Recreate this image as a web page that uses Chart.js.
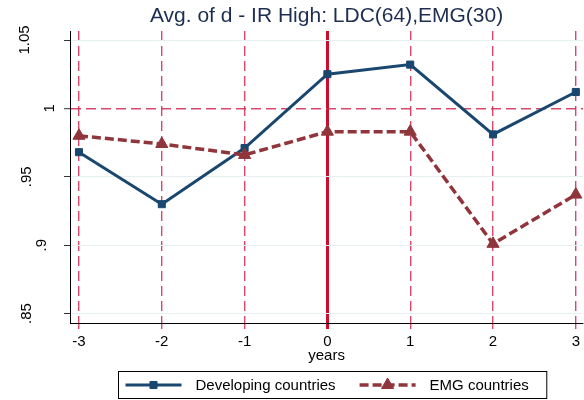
<!DOCTYPE html>
<html>
<head>
<meta charset="utf-8">
<script src="https://cdn.jsdelivr.net/npm/chart.js@4.4.1/dist/chart.umd.min.js"></script>
<style>
html, body { margin: 0; padding: 0; background: #fff; }
</style>
</head>
<body>
<canvas id="grafico" width="584" height="400"></canvas>
<script>
// datos (años relativos al evento)
const years = [-3, -2, -1, 0, 1, 2, 3];
const developing = [0.968, 0.930, 0.971, 1.025, 1.032, 0.981, 1.012];
const emg = [0.980, 0.974, 0.966, 0.983, 0.983, 0.901, 0.937];
const yTicks = [0.85, 0.9, 0.95, 1, 1.05];
const seriesNames = ['Developing countries', 'EMG countries'];
const chartTitle = 'Avg. of d - IR High: LDC(64),EMG(30)';
const xTitle = 'years';

// colores estilo Stata s2color
const NAVY = '#1a476f';
const MAROON = '#90353b';
const RED = '#c8102e';
const RED_DASH = 'rgba(210, 40, 80, 0.85)';
const GRID = '#e8eff1';
const FONT = '"Liberation Sans", Arial, sans-serif';

Chart.defaults.font.family = FONT;
Chart.defaults.color = '#000';

// formato Stata: .85, .9, 1, 1.05
function stataLabel(v) {
    const s = String(Math.round(v * 100) / 100);
    return s.replace(/^0\./, '.');
}

// etiquetas del eje y giradas 90 grados
const etiquetasY = {
    id: 'etiquetasY',
    afterDraw(chart) {
        const ctx = chart.ctx;
        const y = chart.scales.y;
        ctx.save();
        ctx.font = '15px ' + FONT;
        ctx.fillStyle = '#000';
        ctx.textAlign = 'center';
        ctx.textBaseline = 'middle';
        for (const v of yTicks) {
            const txt = stataLabel(v);
            const w = ctx.measureText(txt).width;
            const cx = Math.max(25, 66 - 1.9 * w);
            ctx.save();
            ctx.translate(cx, y.getPixelForValue(v));
            ctx.rotate(-Math.PI / 2);
            ctx.fillText(txt, 0, 0);
            ctx.restore();
        }
        ctx.restore();
    }
};

// leyenda con recuadro, muestra de línea y marcador
const leyenda = {
    id: 'leyenda',
    afterDraw(chart) {
        const ctx = chart.ctx;
        const area = chart.chartArea;
        const muestra = 56, sep = 14, entre = 24, padIzq = 7, padDer = 18;
        ctx.save();
        ctx.font = '15px ' + FONT;
        const dsets = chart.data.datasets;
        const anchos = dsets.map(ds => ctx.measureText(ds.label).width);
        let total = padIzq + padDer + entre * (dsets.length - 1);
        for (const w of anchos) total += muestra + sep + w;
        const left = Math.round((area.left + area.right) / 2 - total / 2 + 6) + 0.5;
        const top = 371.5, alto = 27;
        ctx.fillStyle = '#fff';
        ctx.fillRect(left, top, total, alto);
        ctx.strokeStyle = '#000';
        ctx.lineWidth = 1;
        ctx.strokeRect(left, top, total, alto);
        const ly = 385;
        let x = left + padIzq;
        dsets.forEach((ds, i) => {
            ctx.strokeStyle = ds.borderColor;
            ctx.lineWidth = ds.borderWidth;
            ctx.setLineDash(ds.borderDash || []);
            ctx.beginPath();
            ctx.moveTo(x, ly);
            ctx.lineTo(x + muestra, ly);
            ctx.stroke();
            ctx.setLineDash([]);
            ctx.fillStyle = ds.backgroundColor;
            ctx.lineWidth = ds.pointBorderWidth;
            Chart.helpers.drawPoint(ctx, {
                pointStyle: ds.pointStyle, radius: ds.pointRadius,
                rotation: 0, borderWidth: ds.pointBorderWidth
            }, x + muestra / 2, ly);
            ctx.fillStyle = '#000';
            ctx.textAlign = 'left';
            ctx.textBaseline = 'alphabetic';
            ctx.fillText(ds.label, x + muestra + sep, 390);
            x += muestra + sep + anchos[i] + entre;
        });
        ctx.restore();
    }
};

const esCero = c => c.tick && c.tick.value === 0;
const esUno = c => c.tick && Math.abs(c.tick.value - 1) < 1e-9;

new Chart(document.getElementById('grafico'), {
    type: 'line',
    data: {
        datasets: [
            {
                label: seriesNames[0],
                data: years.map((x, i) => ({ x, y: developing[i] })),
                borderColor: NAVY,
                backgroundColor: NAVY,
                borderWidth: 3,
                pointStyle: 'rect',
                pointRadius: 5,
                pointBorderWidth: 1,
                tension: 0,
                order: 2
            },
            {
                label: seriesNames[1],
                data: years.map((x, i) => ({ x, y: emg[i] })),
                borderColor: MAROON,
                backgroundColor: MAROON,
                borderWidth: 3.5,
                borderDash: [9, 4],
                pointStyle: 'triangle',
                pointRadius: 7,
                pointBorderWidth: 1,
                tension: 0,
                order: 1
            }
        ]
    },
    options: {
        responsive: false,
        animation: false,
        devicePixelRatio: 1,
        layout: { padding: 0, autoPadding: false },
        plugins: {
            legend: { display: false },
            tooltip: { enabled: false },
            title: {
                display: true,
                text: chartTitle,
                fullSize: false,
                color: '#1e2e52',
                font: { size: 21, weight: 'normal' },
                padding: { top: 4, bottom: 1.8 }
            }
        },
        scales: {
            x: {
                type: 'linear',
                min: -3.1085,
                max: 3.088,
                afterBuildTicks: s => { s.ticks = years.map(v => ({ value: v })); },
                afterFit: s => { s.height = 77; },
                ticks: { font: { size: 15 }, padding: 4, callback: v => String(v) },
                grid: {
                    color: c => esCero(c) ? RED : RED_DASH,
                    lineWidth: c => esCero(c) ? 3 : 1.4,
                    tickColor: c => esCero(c) ? RED : RED_DASH,
                    tickWidth: c => esCero(c) ? 3 : 1.4,
                    tickLength: 6
                },
                border: {
                    display: true, color: '#000', width: 1,
                    dash: c => esCero(c) ? [] : [10, 5]
                },
                title: {
                    display: true, text: xTitle,
                    font: { size: 15 },
                    padding: { top: 0, bottom: 35.6 }
                }
            },
            y: {
                min: 0.84313,
                max: 1.05658,
                afterBuildTicks: s => { s.ticks = yTicks.map(v => ({ value: v })); },
                afterFit: s => { s.width = 70; },
                ticks: { display: false },
                grid: {
                    color: c => esUno(c) ? RED_DASH : GRID,
                    lineWidth: c => esUno(c) ? 1.4 : 1,
                    tickColor: '#333',
                    tickWidth: 1,
                    tickLength: 6
                },
                border: {
                    display: true, color: '#000', width: 1,
                    dash: c => esUno(c) ? [10, 5] : []
                }
            }
        }
    },
    plugins: [etiquetasY, leyenda]
});
</script>
</body>
</html>
